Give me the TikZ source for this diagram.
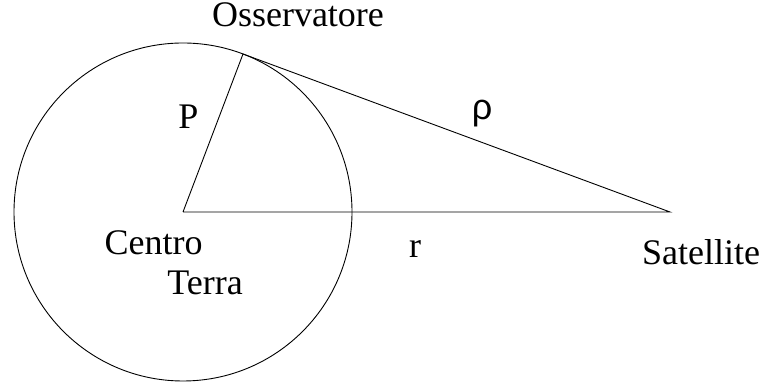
\documentclass[tikz,border=0pt]{standalone}
\usepackage{fontspec}
\setmainfont{Liberation Serif}
\newfontfamily\rhofont{Liberation Sans}
\usetikzlibrary{positioning}

\tikzset{
  lbl/.style={inner sep=0pt, anchor=base},
  geo/.style={line width=0.9pt}
}

\begin{document}
\begin{tikzpicture}[x=1pt, y=1pt, font=\fontsize{36}{40}\selectfont]
  \useasboundingbox (0,0) rectangle (761,387);
  % earth and the three points
  \coordinate (ctr) at (183,175);
  \coordinate (obs) at (243,333);
  \coordinate (sat) at (670,175);
  \draw[geo] (ctr) circle[radius=169];
  \draw[geo] (ctr) -- (obs) -- (sat) -- (ctr);
  % labels
  \node[lbl] (osservatore) at (298,360) {Osservatore};
  \node[lbl] (pl) at (188.5,258) {P};
  \node[lbl] (rho) at (482,267) {\rhofont ρ};
  \node[lbl] (centro) at (153.5,132) {Centro};
  \node[lbl] (terra) at (205,92) {Terra};
  \node[lbl] (rl) at (415,129) {r};
  \node[lbl] (satellite) at (701,122) {Satellite};
\end{tikzpicture}
\end{document}
